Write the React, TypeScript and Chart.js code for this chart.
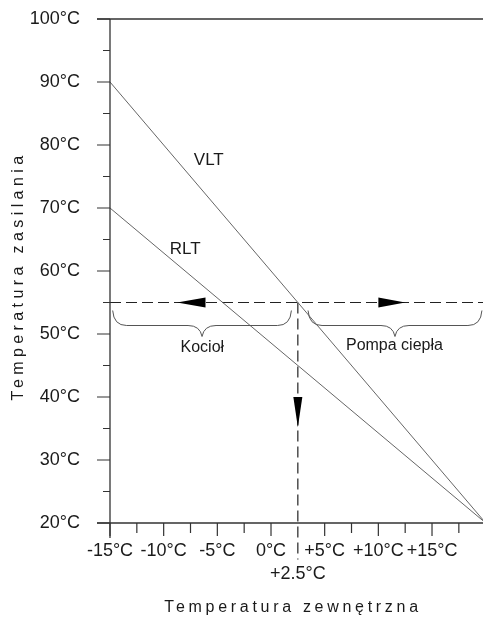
import React, { useEffect, useRef } from 'react';
import { Chart, registerables } from 'chart.js';

Chart.register(...registerables);

// ---- data ----
const xTickValues = [-15, -10, -5, 0, 2.5, 5, 10, 15];
const xTickLabels: (string | string[])[] = ['-15°C', '-10°C', '-5°C', '0°C', ['', '+2.5°C'], '+5°C', '+10°C', '+15°C'];
const xMinorTicks = [-12.5, -7.5, -2.5, 7.5, 12.5, 17.5];
const yTickValues = [20, 30, 40, 50, 60, 70, 80, 90, 100];
const yTickLabels = ['20°C', '30°C', '40°C', '50°C', '60°C', '70°C', '80°C', '90°C', '100°C'];
const yMinorTicks = [25, 35, 45, 55, 65, 75, 85, 95];

const vltX = [-15, 20];
const vltY = [90, 20];
const rltX = [-15, 20];
const rltY = [70, 20];

const switchTemp = 2.5; // outdoor temperature of switch point
const switchSupply = 55; // supply temperature of switch point

const X_MIN = -15;
const X_MAX = 19.75;
const Y_MIN = 20;
const Y_MAX = 100;

const FONT = '"Liberation Sans", Arial, sans-serif';
const AXIS = '#333';

function App() {
  const ref = useRef<HTMLCanvasElement | null>(null);

  useEffect(() => {
    document.body.style.margin = '0';
    const canvas = ref.current;
    if (!canvas) return;

    const overlay = {
      id: 'overlay',
      afterDraw(chart: any) {
        const ctx: CanvasRenderingContext2D = chart.ctx;
        const xs = chart.scales.x;
        const ys = chart.scales.y;
        const { left, right, bottom } = chart.chartArea;
        const px = (v: number) => xs.getPixelForValue(v);
        const py = (v: number) => ys.getPixelForValue(v);

        ctx.save();
        ctx.strokeStyle = AXIS;
        ctx.lineWidth = 1.3;
        // axes
        ctx.beginPath();
        ctx.moveTo(left, py(Y_MAX));
        ctx.lineTo(left, bottom + 15);
        ctx.moveTo(left - 13, bottom);
        ctx.lineTo(right, bottom);
        ctx.moveTo(left - 13, py(Y_MAX));
        ctx.lineTo(right, py(Y_MAX));
        ctx.stroke();
        // y ticks
        ctx.lineWidth = 1.2;
        ctx.beginPath();
        yTickValues.forEach((v) => {
          ctx.moveTo(left - 13, py(v));
          ctx.lineTo(left, py(v));
        });
        yMinorTicks.forEach((v) => {
          ctx.moveTo(left - 7, py(v));
          ctx.lineTo(left, py(v));
        });
        // x ticks
        xTickValues.forEach((v) => {
          if (v === switchTemp) return;
          ctx.moveTo(px(v), bottom);
          ctx.lineTo(px(v), bottom + 13);
        });
        xMinorTicks.forEach((v) => {
          ctx.moveTo(px(v), bottom);
          ctx.lineTo(px(v), bottom + 10);
        });
        ctx.stroke();

        // arrows
        ctx.fillStyle = '#000';
        const yS = py(switchSupply);
        const tri = (pts: number[][]) => {
          ctx.beginPath();
          ctx.moveTo(pts[0][0], pts[0][1]);
          for (let i = 1; i < pts.length; i++) ctx.lineTo(pts[i][0], pts[i][1]);
          ctx.closePath();
          ctx.fill();
        };
        // left arrow
        tri([[px(-8.75), yS], [px(-6.1), yS - 5], [px(-6.1), yS + 5]]);
        // right arrow
        tri([[px(12.5), yS], [px(10), yS - 5], [px(10), yS + 5]]);
        // down arrow
        const xS = px(switchTemp);
        tri([[xS, py(35.2)], [xS - 4.5, py(40)], [xS + 4.5, py(40)]]);

        // braces
        ctx.strokeStyle = '#555';
        ctx.lineWidth = 1;
        const brace = (x0: number, x1: number, yTop: number) => {
          const xm = (x0 + x1) / 2;
          const yH = yTop + 15;
          const yC = yTop + 26;
          const r = 14;
          ctx.beginPath();
          ctx.moveTo(x0, yTop);
          ctx.quadraticCurveTo(x0 + 1, yH, x0 + r, yH);
          ctx.lineTo(xm - r, yH);
          ctx.quadraticCurveTo(xm - 2, yH, xm, yC);
          ctx.quadraticCurveTo(xm + 2, yH, xm + r, yH);
          ctx.lineTo(x1 - r, yH);
          ctx.quadraticCurveTo(x1 - 1, yH, x1, yTop);
          ctx.stroke();
        };
        brace(px(-14.75), px(1.9), yS + 8);
        brace(px(3.45), px(19.65), yS + 8);

        // annotation texts
        ctx.fillStyle = '#1a1a1a';
        ctx.textAlign = 'center';
        ctx.textBaseline = 'middle';
        ctx.font = `16px ${FONT}`;
        ctx.fillText('Kocioł', px(-6.4), yS + 45);
        ctx.fillText('Pompa ciepła', px(11.5), yS + 43);
        ctx.font = `17px ${FONT}`;
        ctx.fillText('VLT', px(-5.8), py(77.6));
        ctx.fillText('RLT', px(-8.0), py(63.5));

        // axis titles
        ctx.font = `16px ${FONT}`;
        (ctx as any).letterSpacing = '3.7px';
        ctx.fillText('Temperatura zewnętrzna', 293, 608);
        (ctx as any).letterSpacing = '4.4px';
        ctx.translate(19, 278);
        ctx.rotate(-Math.PI / 2);
        ctx.fillText('Temperatura zasilania', 2, 0);
        ctx.restore();
      },
    };

    const chart = new Chart(canvas, {
      type: 'line',
      data: {
        datasets: [
          {
            label: 'VLT',
            data: vltX.map((x, i) => ({ x, y: vltY[i] })),
            borderColor: '#666',
            borderWidth: 1,
            pointRadius: 0,
          },
          {
            label: 'RLT',
            data: rltX.map((x, i) => ({ x, y: rltY[i] })),
            borderColor: '#666',
            borderWidth: 1,
            pointRadius: 0,
          },
          {
            label: 'switch-h',
            data: [
              { x: X_MIN, y: switchSupply },
              { x: X_MAX, y: switchSupply },
            ],
            borderColor: '#222',
            borderWidth: 1.2,
            borderDash: [11, 5],
            pointRadius: 0,
          },
          {
            label: 'switch-v',
            data: [
              { x: switchTemp, y: switchSupply },
              { x: switchTemp, y: 14.2 },
            ],
            borderColor: '#222',
            borderWidth: 1.2,
            borderDash: [11, 5],
            pointRadius: 0,
            clip: false as any,
          },
        ],
      },
      options: {
        animation: false,
        responsive: false,
        maintainAspectRatio: false,
        layout: { padding: { top: 19, right: 0, left: 0, bottom: 0 } },
        plugins: {
          legend: { display: false },
          tooltip: { enabled: false },
        },
        scales: {
          x: {
            type: 'linear',
            min: X_MIN,
            max: X_MAX,
            grid: { display: false, drawTicks: false },
            border: { display: false },
            afterBuildTicks: (scale: any) => {
              scale.ticks = xTickValues.map((v) => ({ value: v }));
            },
            afterFit: (scale: any) => {
              scale.height = 96;
              scale.paddingLeft = 0;
              scale.paddingRight = 0;
            },
            ticks: {
              autoSkip: false,
              maxRotation: 0,
              minRotation: 0,
              padding: 16,
              color: '#1a1a1a',
              font: { family: FONT, size: 18, lineHeight: 1.3 },
              callback: (value: any) => {
                const i = xTickValues.indexOf(Number(value));
                return i >= 0 ? (xTickLabels[i] as any) : '';
              },
            },
          },
          y: {
            type: 'linear',
            min: Y_MIN,
            max: Y_MAX,
            grid: { display: false, drawTicks: false },
            border: { display: false },
            afterBuildTicks: (scale: any) => {
              scale.ticks = yTickValues.map((v) => ({ value: v }));
            },
            afterFit: (scale: any) => {
              scale.width = 110;
              scale.paddingTop = 0;
              scale.paddingBottom = 0;
            },
            ticks: {
              autoSkip: false,
              padding: 30,
              color: '#1a1a1a',
              font: { family: FONT, size: 18 },
              callback: (value: any) => {
                const i = yTickValues.indexOf(Number(value));
                return i >= 0 ? yTickLabels[i] : '';
              },
            },
          },
        },
      },
      plugins: [overlay],
    } as any);

    return () => {
      chart.destroy();
    };
  }, []);

  return <canvas ref={ref} width={483} height={619} style={{ display: 'block' }} />;
}

export default App;
